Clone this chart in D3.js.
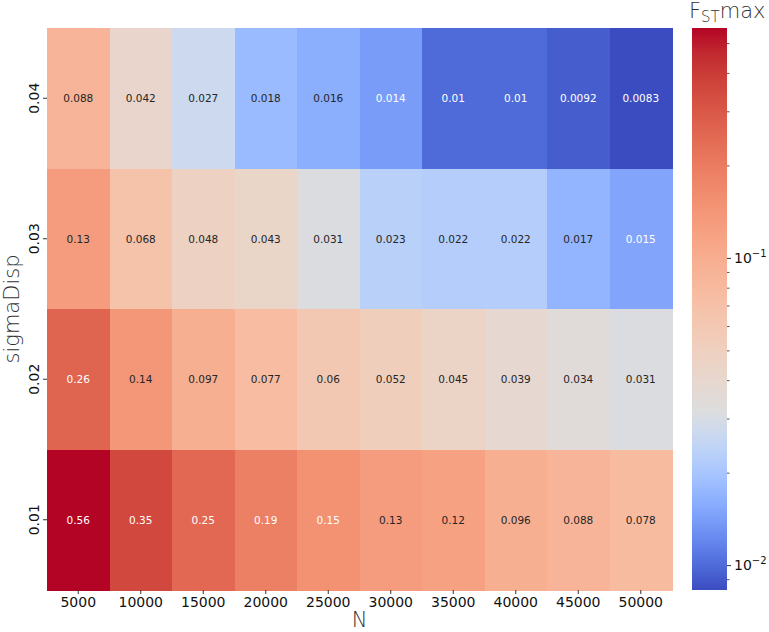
<!DOCTYPE html>
<html>
<head>
<meta charset="utf-8">
<script src="https://cdn.jsdelivr.net/npm/d3@7"></script>
<style>
    body { margin: 0; background: #fff; }
    text { font-family: "DejaVu Sans", sans-serif; }
</style>
</head>
<body>
<div id="svg-container"></div>
<script>
// heatmap of FST max by N and sigmaDisp, coolwarm colours on a log scale

const N_VALUES = ['5000', '10000', '15000', '20000', '25000', '30000', '35000', '40000', '45000', '50000']
const SIGMA_DISP = ['0.04', '0.03', '0.02', '0.01'] // top to bottom

const FST_SIGMA_004 = [0.088, 0.042, 0.027, 0.018, 0.016, 0.014, 0.01, 0.01, 0.0092, 0.0083]
const FST_SIGMA_003 = [0.13, 0.068, 0.048, 0.043, 0.031, 0.023, 0.022, 0.022, 0.017, 0.015]
const FST_SIGMA_002 = [0.26, 0.14, 0.097, 0.077, 0.06, 0.052, 0.045, 0.039, 0.034, 0.031]
const FST_SIGMA_001 = [0.56, 0.35, 0.25, 0.19, 0.15, 0.13, 0.12, 0.096, 0.088, 0.078]
const FST_ROWS = [FST_SIGMA_004, FST_SIGMA_003, FST_SIGMA_002, FST_SIGMA_001]

const COLORBAR_MAJOR = [0.01, 0.1]
const COLORBAR_MAJOR_EXP = ['\u22122', '\u22121']
const COLORBAR_MINOR = [0.009, 0.02, 0.03, 0.04, 0.05, 0.06, 0.07, 0.08, 0.09, 0.2, 0.3, 0.4, 0.5]

const V_MIN = 0.0083
const V_CENTER = 0.032
const V_MAX = 0.56

// matplotlib coolwarm (Moreland), 33 samples
const COOLWARM = [
    [59, 76, 192], [68, 90, 204], [77, 104, 215], [87, 117, 225], [98, 130, 234],
    [108, 142, 241], [119, 154, 247], [130, 165, 251], [141, 176, 254], [152, 185, 255],
    [163, 194, 255], [174, 201, 253], [184, 208, 249], [194, 213, 244], [204, 217, 238],
    [213, 219, 230], [221, 221, 221], [229, 216, 209], [236, 211, 197], [241, 204, 185],
    [245, 196, 173], [247, 187, 160], [247, 177, 148], [247, 166, 135], [244, 154, 123],
    [241, 141, 111], [236, 127, 99], [229, 112, 88], [222, 96, 77], [213, 80, 66],
    [203, 62, 56], [192, 40, 47], [180, 4, 38],
]

const [WIDTH, HEIGHT] = [769, 632]
const HEAT = { left: 47, right: 672, top: 28, bottom: 590 }
const CBAR = { left: 692, right: 727 }

const cmap = d3.scaleLinear()
    .domain(COOLWARM.map((_, i) => i / (COOLWARM.length - 1)))
    .range(COOLWARM.map(c => `rgb(${c[0]},${c[1]},${c[2]})`))
    .interpolate(d3.interpolateRgb)
    .clamp(true)

// two-slope log norm, grey sits at V_CENTER
const norm = d3.scaleLog().domain([V_MIN, V_CENTER, V_MAX]).range([0, 0.5, 1]).clamp(true)
const colorOf = v => cmap(norm(v))

// same rule seaborn uses for annotation colour
function luminance(col) {
    const c = d3.rgb(col)
    const lin = [c.r, c.g, c.b].map(v => {
        v = v / 255
        return v <= 0.03928 ? v / 12.92 : Math.pow((v + 0.055) / 1.055, 2.4)
    })
    return 0.2126 * lin[0] + 0.7152 * lin[1] + 0.0722 * lin[2]
}

const svg = d3.select('#svg-container').append('svg')
    .attr('width', WIDTH)
    .attr('height', HEIGHT)
    .attr('viewBox', [0, 0, WIDTH, HEIGHT])

const xScale = d3.scaleBand(N_VALUES, [HEAT.left, HEAT.right])
const yScale = d3.scaleBand(SIGMA_DISP, [HEAT.top, HEAT.bottom])

const cells = []
FST_ROWS.forEach((row, i) => row.forEach((v, j) => cells.push({ n: N_VALUES[j], s: SIGMA_DISP[i], v })))

svg.append('g').selectAll('rect')
    .data(cells)
    .join('rect')
    .attr('x', d => xScale(d.n))
    .attr('y', d => yScale(d.s))
    .attr('width', xScale.bandwidth() + 0.5)
    .attr('height', yScale.bandwidth() + 0.5)
    .attr('fill', d => colorOf(d.v))
    .attr('shape-rendering', 'crispEdges')

svg.append('g').selectAll('text')
    .data(cells)
    .join('text')
    .attr('x', d => xScale(d.n) + xScale.bandwidth() / 2)
    .attr('y', d => yScale(d.s) + yScale.bandwidth() / 2)
    .attr('text-anchor', 'middle')
    .attr('dominant-baseline', 'central')
    .attr('font-size', 10.5)
    .attr('fill', d => luminance(colorOf(d.v)) > 0.408 ? '#262626' : '#fff')
    .text(d => d.v)

// axes
const xAxis = svg.append('g')
    .attr('transform', `translate(0,${HEAT.bottom})`)
    .call(d3.axisBottom(xScale).tickSize(4).tickPadding(3))
xAxis.select('.domain').remove()
xAxis.selectAll('.tick line').attr('stroke', '#333')
xAxis.selectAll('.tick text').attr('font-size', 14).attr('fill', '#111').attr('font-family', '"DejaVu Sans", sans-serif')

const yAxis = svg.append('g')
    .attr('transform', `translate(${HEAT.left},0)`)
    .call(d3.axisLeft(yScale).tickSize(4))
yAxis.select('.domain').remove()
yAxis.selectAll('.tick line').attr('stroke', '#333')
yAxis.selectAll('.tick text')
    .attr('font-size', 14).attr('fill', '#111').attr('font-family', '"DejaVu Sans", sans-serif')
    .attr('x', null).attr('dy', null)
    .attr('text-anchor', 'middle')
    .attr('transform', 'translate(-8,0) rotate(-90)')

svg.append('text')
    .attr('x', (HEAT.left + HEAT.right) / 2)
    .attr('y', 627)
    .attr('text-anchor', 'middle')
    .attr('font-size', 21)
    .attr('font-weight', 300)
    .attr('fill', '#333')
    .text('N')

svg.append('text')
    .attr('transform', `translate(19,${(HEAT.top + HEAT.bottom) / 2}) rotate(-90)`)
    .attr('text-anchor', 'middle')
    .attr('font-size', 21)
    .attr('font-weight', 300)
    .attr('fill', '#333')
    .text('sigmaDisp')

// colorbar
const cbScale = d3.scaleLog([V_MIN, V_MAX], [HEAT.bottom, HEAT.top])
svg.append('g').selectAll('rect')
    .data(d3.range(HEAT.top, HEAT.bottom))
    .join('rect')
    .attr('x', CBAR.left)
    .attr('y', d => d)
    .attr('width', CBAR.right - CBAR.left)
    .attr('height', 1)
    .attr('fill', d => colorOf(cbScale.invert(d + 0.5)))
    .attr('shape-rendering', 'crispEdges')

const cbMinor = svg.append('g')
    .attr('transform', `translate(${CBAR.right},0)`)
    .call(d3.axisRight(cbScale).tickValues(COLORBAR_MINOR).tickSize(2.5).tickFormat(''))
cbMinor.select('.domain').remove()
cbMinor.selectAll('.tick line').attr('stroke', '#555')

const cbMajor = svg.append('g')
    .attr('transform', `translate(${CBAR.right},0)`)
    .call(d3.axisRight(cbScale).tickValues(COLORBAR_MAJOR).tickSize(4).tickPadding(3).tickFormat(''))
cbMajor.select('.domain').remove()
cbMajor.selectAll('.tick line').attr('stroke', '#333')
cbMajor.selectAll('.tick text')
    .attr('font-size', 14).attr('fill', '#111').attr('font-family', '"DejaVu Sans", sans-serif')
    .each(function (d, i) {
        const t = d3.select(this)
        t.append('tspan').text('10')
        t.append('tspan').attr('font-size', 10).attr('dy', -6).text(COLORBAR_MAJOR_EXP[i])
    })

const title = svg.append('text')
    .attr('x', 689)
    .attr('y', 18)
    .attr('font-size', 21)
    .attr('font-weight', 300)
    .attr('fill', '#333')
title.append('tspan').text('F')
title.append('tspan').attr('font-size', 15).attr('dy', 4).text('ST')
title.append('tspan').attr('dy', -4).text('max')
</script>
</body>
</html>
